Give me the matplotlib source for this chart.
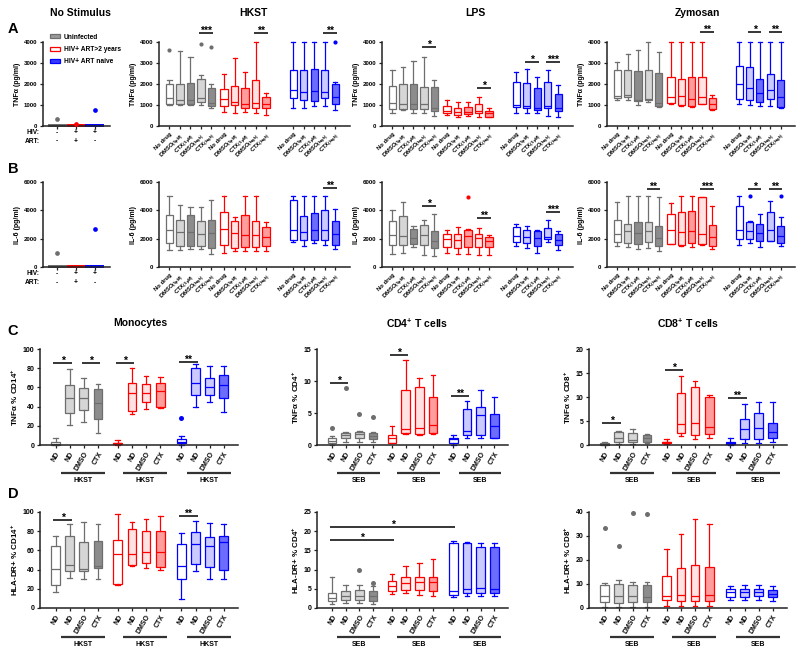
import matplotlib
matplotlib.use('Agg')
import matplotlib.pyplot as plt
from matplotlib.patches import Patch
from matplotlib.transforms import blended_transform_factory

plt.rcParams['font.family'] = ['Liberation Sans', 'DejaVu Sans']
plt.rcParams['font.weight'] = 'bold'
plt.rcParams['axes.labelweight'] = 'bold'
plt.rcParams['mathtext.fontset'] = 'custom'
plt.rcParams['mathtext.rm'] = 'Liberation Sans:bold'
plt.rcParams['mathtext.bf'] = 'Liberation Sans:bold'
plt.rcParams['mathtext.it'] = 'Liberation Sans:bold'
plt.rcParams['mathtext.sf'] = 'Liberation Sans:bold'
plt.rcParams['mathtext.default'] = 'bf'

# ---------------- data (whislo, q1, median, q3, whishi) ----------------
drug_labels = ['No drug', r'DMSO$_{(5\,µM)}$', r'CTX$_{(5\,µM)}$', r'DMSO$_{(high)}$', r'CTX$_{(high)}$']
cell_labels = ['ND', 'ND', 'DMSO', 'CTX']
legend_labels = ['Uninfected', 'HIV+ ART>2 years', 'HIV+ ART naive']
hiv_row = ['-', '+', '+']
art_row = ['-', '+', '-']

# No stimulus
tnf_nostim = [[0, 5, 20, 40, 50], [0, 5, 20, 40, 50], [0, 5, 20, 40, 50]]
tnf_nostim_out = [(0, 330), (1, 80), (2, 750)]
il6_nostim = [[0, 10, 30, 60, 80], [0, 10, 30, 60, 80], [0, 10, 30, 60, 80]]
il6_nostim_out = [(0, 1000), (2, 2650)]

# TNF HKST
tnf_hkst_uninf = [[1000, 1050, 1310, 2020, 2200], [980, 1030, 1230, 2020, 3570], [980, 1040, 1260, 2050, 3290],
                  [1000, 1150, 1310, 2220, 2420], [880, 950, 1100, 1830, 2020]]
tnf_hkst_art = [[650, 950, 1280, 1740, 2500], [630, 980, 1120, 1900, 3250], [680, 840, 1030, 1790, 2580],
                [630, 840, 1110, 2180, 4000], [520, 840, 1040, 1360, 1550]]
tnf_hkst_naive = [[840, 1310, 1710, 2690, 4000], [840, 1260, 1600, 2650, 4000], [950, 1200, 1660, 2730, 4000],
                  [950, 1310, 1630, 2690, 4000], [760, 1030, 1360, 1990, 2100]]
tnf_hkst_out = [(0, 3600), (3, 3920), (4, 3760), (14, 4000)]
tnf_hkst_sig = [(3, 4, 4430, '***'), (8, 9, 4430, '**'), (13, 14, 4430, '**')]

# TNF LPS
tnf_lps_uninf = [[630, 790, 1100, 1900, 2650], [760, 790, 1030, 1980, 2800], [630, 790, 1070, 1980, 3100],
                 [630, 790, 1030, 1860, 3280], [490, 710, 840, 1860, 2180]]
tnf_lps_art = [[520, 600, 710, 950, 1260], [440, 520, 680, 870, 1150], [470, 550, 680, 920, 1150],
               [440, 600, 710, 1070, 1390], [410, 440, 600, 710, 880]]
tnf_lps_naive = [[600, 920, 1000, 2100, 2580], [600, 870, 950, 2050, 2730], [600, 760, 880, 1830, 2340],
                 [470, 880, 950, 2100, 2650], [410, 730, 840, 1520, 1940]]
tnf_lps_out = []
tnf_lps_sig = [(3, 4, 3780, '*'), (8, 9, 1810, '*'), (11, 12, 3050, '*'), (13, 14, 3050, '***')]

# TNF Zymosan
tnf_zym_uninf = [[1230, 1340, 1420, 2650, 3050], [1260, 1390, 1470, 2650, 3440], [1000, 1200, 1260, 2620, 3600],
                 [1150, 1230, 1280, 2690, 4000], [920, 950, 1100, 2530, 3520]]
tnf_zym_art = [[1030, 1100, 1390, 2310, 4000], [950, 1000, 1440, 2230, 4000], [920, 950, 1280, 2310, 4000],
               [1030, 1070, 1390, 2310, 4000], [760, 800, 1070, 1310, 1470]]
tnf_zym_naive = [[1030, 1280, 1990, 2840, 4000], [1000, 1260, 1790, 2810, 4000], [960, 1120, 1580, 2260, 4000],
                 [950, 1280, 1710, 2480, 4000], [840, 920, 1390, 2180, 4000]]
tnf_zym_out = []
tnf_zym_sig = [(8, 9, 4470, '**'), (11, 12, 4470, '*'), (13, 14, 4470, '**')]

# IL-6 HKST
il6_hkst_uninf = [[1220, 1690, 2590, 3690, 5000], [1220, 1510, 2450, 3340, 4400], [1270, 1510, 2450, 3690, 4210],
                  [1270, 1510, 2350, 3270, 4210], [920, 1340, 2400, 3340, 4700]]
il6_hkst_art = [[990, 1580, 2700, 3860, 5000], [1150, 1340, 2400, 3270, 3530], [1110, 1390, 2280, 3650, 5000],
                [1110, 1390, 2280, 3220, 5000], [1110, 1510, 2120, 2800, 3180]]
il6_hkst_naive = [[1740, 1930, 2640, 4700, 5000], [1510, 1930, 2470, 3580, 5000], [1690, 1930, 2640, 3810, 5000],
                  [1580, 1930, 2640, 4050, 5000], [1290, 1580, 2350, 3220, 4120]]
il6_hkst_out = []
il6_hkst_sig = [(13, 14, 5580, '**')]

# IL-6 LPS
il6_lps_uninf = [[940, 1580, 2280, 3220, 4050], [990, 1580, 2210, 3620, 4560], [1410, 1650, 2050, 2680, 2920],
                 [870, 1580, 2260, 2990, 3290], [800, 1340, 1860, 2520, 3740]]
il6_lps_art = [[990, 1410, 2000, 2350, 2640], [940, 1340, 1930, 2350, 2800], [940, 1410, 2160, 2590, 2680],
               [870, 1390, 2050, 2350, 2750], [870, 1390, 1810, 2120, 2280]]
il6_lps_naive = [[1510, 1740, 2160, 2800, 3060], [1340, 1690, 2120, 2640, 2870], [990, 1460, 2050, 2520, 2640],
                 [1760, 1980, 2090, 2750, 3340], [1220, 1580, 1930, 2350, 2560]]
il6_lps_out = [(7, 4920)]
il6_lps_sig = [(3, 4, 4330, '*'), (8, 9, 3440, '**'), (13, 14, 3900, '***')]

# IL-6 Zymosan
il6_zym_uninf = [[1460, 1740, 2350, 3340, 4560], [1410, 1690, 2520, 3040, 5000], [1270, 1620, 2400, 3150, 5000],
                 [1340, 1740, 2560, 3150, 5000], [1110, 1510, 2050, 2870, 4940]]
il6_zym_art = [[1600, 1650, 2590, 3740, 4520], [1510, 1580, 2450, 3880, 5000], [1410, 1690, 2520, 3930, 5000],
               [1580, 1600, 2350, 4940, 4960], [1270, 1460, 2120, 2990, 4280]]
il6_zym_naive = [[1580, 2000, 2640, 4280, 5000], [1690, 2000, 2520, 3180, 3270], [1410, 1860, 2400, 3060, 3740],
                 [1810, 1860, 2640, 3860, 4640], [1510, 1690, 2210, 2870, 3530]]
il6_zym_out = [(11, 5000), (14, 5000)]
il6_zym_sig = [(3, 4, 5500, '**'), (8, 9, 5500, '***'), (11, 12, 5500, '*'), (13, 14, 5500, '**')]

# C: TNF % of cells
mono_tnf_uninf = [[0, 0.5, 1.5, 3, 7], [20.8, 33, 48.6, 62.5, 79], [24.3, 36.5, 49.3, 59.7, 69.4], [12.2, 26.7, 43.4, 58, 63.5]]
mono_tnf_art = [[0, 0.7, 1.7, 2.4, 5.2], [32.3, 35.4, 54.5, 65, 79.9], [37.2, 45, 54.5, 63.5, 72.2], [38.9, 40, 56.3, 65, 70.5]]
mono_tnf_naive = [[0, 1.7, 2.8, 5.9, 9.4], [40, 52, 64.2, 79.9, 84.4], [44.4, 52, 60.8, 70.1, 82.3], [34.7, 48.6, 62.5, 72.9, 82.3]]
mono_tnf_out = [(8, 27.8)]
mono_tnf_sig = [(0, 1, 85, '*'), (2, 3, 85, '*'), (4, 5, 85, '*'), (8, 9, 86.8, '**')]

cd4_tnf_uninf = [[0, 0.26, 0.63, 1.04, 1.4], [0.42, 1.04, 1.56, 1.82, 1.98], [0.52, 1.04, 1.67, 2.08, 2.24], [0.42, 0.94, 1.41, 1.82, 2.03]]
cd4_tnf_art = [[0.26, 0.36, 1.04, 1.56, 3.02], [1.72, 1.82, 2.45, 8.6, 13.3], [1.56, 1.67, 2.7, 9.0, 10.5], [1.67, 1.82, 3.13, 7.55, 11.0]]
cd4_tnf_naive = [[0.05, 0.36, 0.89, 1.04, 1.56], [1.15, 1.56, 2.24, 5.63, 6.93], [1.04, 1.56, 4.69, 6.0, 8.6], [1.04, 1.15, 2.97, 4.85, 7.45]]
cd4_tnf_out = [(0, 2.6), (1, 8.86), (2, 4.8), (3, 4.43)]
cd4_tnf_sig = [(0, 1, 9.74, '*'), (4, 5, 14.07, '*'), (8, 9, 7.7, '**')]

cd8_tnf_uninf = [[0, 0.07, 0.2, 0.35, 0.7], [0.2, 0.55, 1.4, 2.8, 2.9], [0.2, 0.7, 1.04, 2.6, 3.26], [0.35, 0.7, 1.39, 2.08, 2.29]]
cd8_tnf_art = [[0.14, 0.35, 0.55, 0.7, 1.18], [1.94, 2.43, 4.37, 10.9, 14.4], [1.18, 2.08, 4.65, 12.0, 13.3], [1.53, 2.29, 3.68, 9.93, 10.4]]
cd8_tnf_naive = [[0, 0.14, 0.49, 0.7, 1.53], [0.49, 1.18, 3.26, 5.35, 8.47], [0.49, 1.18, 3.61, 6.6, 9.03], [0.55, 1.39, 2.78, 4.65, 8.9]]
cd8_tnf_out = []
cd8_tnf_sig = [(0, 1, 4.5, '*'), (4, 5, 15.6, '*'), (8, 9, 9.7, '**')]

# D: HLA-DR+ % of cells
mono_hla_uninf = [[16.3, 24.3, 40.6, 64.2, 74.7], [31.2, 38.9, 45.1, 75.3, 87.8], [30.2, 38.9, 40.6, 68.8, 89.2], [30.2, 41.7, 43.4, 70.1, 87.8]]
mono_hla_art = [[24.3, 25.3, 56.6, 71.2, 97.9], [43.4, 45.1, 56.6, 82.6, 89.6], [41.7, 46.9, 58.0, 80.6, 93.1], [39.2, 42.4, 58.0, 79.9, 96.2]]
mono_hla_naive = [[9.7, 30.6, 44.1, 66.7, 78.1], [38.2, 46.2, 67.0, 78.8, 90.3], [30.6, 42.7, 64.9, 74.0, 88.5], [30.2, 39.9, 68.8, 74.7, 87.8]]
mono_hla_out = []
mono_hla_sig = [(0, 1, 92, '*'), (8, 9, 95.5, '**')]

cd4_hla_uninf = [[1.0, 1.8, 2.6, 4.0, 8.0], [1.2, 2.0, 3.0, 4.5, 6.0], [1.2, 2.0, 3.2, 4.6, 6.0], [1.0, 1.8, 3.0, 4.5, 5.6]]
cd4_hla_art = [[3.6, 4.5, 5.8, 7.0, 8.8], [3.8, 4.8, 6.5, 8.0, 11.0], [3.5, 4.6, 6.8, 8.2, 11.8], [3.2, 4.4, 6.8, 8.0, 12.8]]
cd4_hla_naive = [[2.8, 3.5, 4.5, 17.0, 17.5], [3.0, 3.8, 5.0, 16.8, 17.2], [3.0, 3.8, 5.2, 16.0, 17.0], [3.0, 3.8, 5.0, 16.0, 17.0]]
cd4_hla_out = [(2, 10.0), (3, 6.5)]
cd4_hla_sig = [(0, 4, 17.6, '*'), (0, 8, 21.0, '*')]

cd8_hla_uninf = [[0.5, 2.5, 5.0, 9.5, 10.5], [0.5, 2.0, 5.0, 10.0, 11.5], [0.5, 2.5, 5.0, 9.5, 11.0], [0.5, 2.5, 4.5, 9.5, 11.0]]
cd8_hla_art = [[1.0, 3.5, 5.0, 13.5, 24.5], [1.0, 3.0, 5.5, 16.5, 31.0], [1.0, 3.0, 5.0, 18.0, 37.0], [1.0, 3.0, 5.5, 17.0, 35.0]]
cd8_hla_naive = [[3.5, 4.5, 6.5, 8.0, 9.0], [3.5, 4.5, 6.5, 8.0, 9.5], [3.5, 5.0, 6.5, 8.0, 9.5], [3.0, 4.5, 6.0, 7.5, 9.0]]
cd8_hla_out = [(0, 33.5), (1, 26.0), (2, 39.5), (3, 39.0)]
cd8_hla_sig = []

# ---------------- styling ----------------
GRAY, RED, BLUE = '#6e6e6e', '#ff0000', '#0000ff'
edges = [GRAY, RED, BLUE]
fills_top = [['white', '#d6d6d6', '#8c8c8c', '#d6d6d6', '#8c8c8c'],
             ['white', '#ffe2e2', '#ff9c9c', '#ffe2e2', '#ff9c9c'],
             ['white', '#cacaff', '#6c6cff', '#cacaff', '#6c6cff']]
fills_cell = [['white', '#d6d6d6', '#d6d6d6', '#8c8c8c'],
              ['white', '#ffe2e2', '#ffe2e2', '#ff9c9c'],
              ['white', '#cacaff', '#cacaff', '#6c6cff']]
pos_top = [[0, 1, 2, 3, 4], [5.2, 6.2, 7.2, 8.2, 9.2], [11.8, 12.8, 13.8, 14.8, 15.8]]
pos_cell = [[0, 1, 2, 3], [4.4, 5.4, 6.4, 7.4], [8.9, 9.9, 10.9, 11.9]]

W, H = 800, 654
fig = plt.figure(figsize=(W / 100, H / 100), dpi=100)


def px_axes(x0, y0, x1, y1):
    return fig.add_axes([x0 / W, 1 - y1 / H, (x1 - x0) / W, (y1 - y0) / H])


def style_axis(ax, ylim, yticks, ylabel, tick_fs, label_fs):
    for s in ['top', 'right']:
        ax.spines[s].set_visible(False)
    for s in ['left', 'bottom']:
        ax.spines[s].set_linewidth(1.1)
        ax.spines[s].set_color('#222222')
    ax.set_ylim(*ylim)
    ax.set_yticks(yticks)
    ax.tick_params(axis='both', direction='out', length=2.5, width=0.9, color='#222222',
                   labelsize=tick_fs, pad=1.5)
    ax.set_ylabel(ylabel, fontsize=label_fs, labelpad=2)


def draw_groups(ax, groups, positions, fills, width, lw=0.9):
    for boxes, pos, fill, edge in zip(groups, positions, fills, edges):
        stats = [dict(whislo=b[0], q1=b[1], med=b[2], q3=b[3], whishi=b[4], fliers=[]) for b in boxes]
        art = ax.bxp(stats, positions=pos, widths=width, capwidths=width * 0.55, patch_artist=True,
                     showfliers=False, manage_ticks=False,
                     boxprops=dict(linewidth=lw),
                     whiskerprops=dict(linewidth=lw, color=edge),
                     capprops=dict(linewidth=lw, color=edge),
                     medianprops=dict(linewidth=lw, color=edge))
        for patch, fc in zip(art['boxes'], fill):
            patch.set_facecolor(fc)
            patch.set_edgecolor(edge)
        for key in art:
            for a in art[key]:
                a.set_clip_on(False)


def draw_outliers(ax, outliers, flat_pos, flat_col, ms=3.0):
    for idx, val in outliers:
        ax.plot(flat_pos[idx], val, 'o', color=flat_col[idx], ms=ms, mec='none', clip_on=False, zorder=5)


def draw_sig(ax, sigs, flat_pos, fs=7.5):
    for a, b, y, lab in sigs:
        x0, x1 = flat_pos[a] - 0.15, flat_pos[b] + 0.15
        ax.plot([x0, x1], [y, y], color='black', lw=1.1, clip_on=False, solid_capstyle='butt')
        ax.annotate(lab, xy=((x0 + x1) / 2, y), xytext=(0, -2), textcoords='offset points',
                    ha='center', va='bottom', fontsize=fs, annotation_clip=False)


flat_top = [p for g in pos_top for p in g]
col_top = [c for c, g in zip(edges, pos_top) for _ in g]
flat_cell = [p for g in pos_cell for p in g]
col_cell = [c for c, g in zip(edges, pos_cell) for _ in g]

# ---------------- rows A and B ----------------
rows_ab = [
    dict(y=(42, 126), ylim=(0, 4000), yticks=[0, 1000, 2000, 3000, 4000], ylabel='TNFα (pg/ml)',
         nostim=tnf_nostim, nostim_out=tnf_nostim_out,
         panels=[([tnf_hkst_uninf, tnf_hkst_art, tnf_hkst_naive], tnf_hkst_out, tnf_hkst_sig),
                 ([tnf_lps_uninf, tnf_lps_art, tnf_lps_naive], tnf_lps_out, tnf_lps_sig),
                 ([tnf_zym_uninf, tnf_zym_art, tnf_zym_naive], tnf_zym_out, tnf_zym_sig)]),
    dict(y=(182, 267), ylim=(0, 6000), yticks=[0, 2000, 4000, 6000], ylabel='IL-6 (pg/ml)',
         nostim=il6_nostim, nostim_out=il6_nostim_out,
         panels=[([il6_hkst_uninf, il6_hkst_art, il6_hkst_naive], il6_hkst_out, il6_hkst_sig),
                 ([il6_lps_uninf, il6_lps_art, il6_lps_naive], il6_lps_out, il6_lps_sig),
                 ([il6_zym_uninf, il6_zym_art, il6_zym_naive], il6_zym_out, il6_zym_sig)]),
]
top_x = [(159, 350), (382, 573), (607, 795)]

for r, row in enumerate(rows_ab):
    y0, y1 = row['y']
    # no stimulus panel
    ax = px_axes(43, y0, 110, y1)
    style_axis(ax, row['ylim'], row['yticks'], row['ylabel'], 4.4, 5)
    ns_pos = [0, 1, 2]
    stats = [dict(whislo=b[0], q1=b[1], med=b[2], q3=b[3], whishi=b[4], fliers=[]) for b in row['nostim']]
    for st, p, e in zip(stats, ns_pos, edges):
        art = ax.bxp([st], positions=[p], widths=0.9, patch_artist=True, showfliers=False, manage_ticks=False,
                     boxprops=dict(linewidth=1.4), whiskerprops=dict(color=e, linewidth=1.4),
                     capprops=dict(color=e, linewidth=1.4), medianprops=dict(color=e, linewidth=1.4))
        art['boxes'][0].set_facecolor(e)
        art['boxes'][0].set_edgecolor(e)
        for key in art:
            for a in art[key]:
                a.set_clip_on(False)
    draw_outliers(ax, row['nostim_out'], ns_pos, edges, ms=3.4)
    ax.set_xlim(-0.75, 2.8)
    ax.set_xticks(ns_pos)
    ax.set_xticklabels([])
    tr = blended_transform_factory(ax.transData, ax.transAxes)
    tra = ax.transAxes
    ax.text(-0.05, -0.075, 'HIV:', transform=tra, ha='right', va='center', fontsize=4.8)
    ax.text(-0.05, -0.18, 'ART:', transform=tra, ha='right', va='center', fontsize=4.8)
    for p, h, a in zip(ns_pos, hiv_row, art_row):
        ax.text(p, -0.075, h, transform=tr, ha='center', va='center', fontsize=4.8)
        ax.text(p, -0.18, a, transform=tr, ha='center', va='center', fontsize=4.8)
    if r == 0:
        handles = [Patch(facecolor='#9a9a9a', edgecolor=GRAY, lw=0.9),
                   Patch(facecolor='white', edgecolor=RED, lw=0.9),
                   Patch(facecolor='#3a3aff', edgecolor=BLUE, lw=0.9)]
        ax.legend(handles, legend_labels, loc='upper left', bbox_to_anchor=(0.1, 1.1), frameon=False,
                  fontsize=4.8, handlelength=1.6, handleheight=0.55, handletextpad=0.5,
                  labelspacing=0.8, borderpad=0, borderaxespad=0)

    for (x0, x1), (groups, outs, sigs) in zip(top_x, row['panels']):
        ax = px_axes(x0, y0, x1, y1)
        style_axis(ax, row['ylim'], row['yticks'], row['ylabel'], 4.4, 5)
        draw_groups(ax, groups, pos_top, fills_top, 0.7)
        draw_outliers(ax, outs, flat_top, col_top)
        draw_sig(ax, sigs, flat_top)
        ax.set_xlim(-1.0, 17.2)
        ax.set_xticks(flat_top)
        ax.set_xticklabels(drug_labels * 3, rotation=45, ha='right', va='top', rotation_mode='anchor',
                           fontsize=4.2)

# ---------------- rows C and D ----------------
rows_cd = [
    dict(y=(349, 445), line_y=-0.292, txt_y=-0.375,
         panels=[((40, 238), (0, 100), [0, 20, 40, 60, 80, 100], 'TNFα % CD14$^{+}$', 'HKST',
                  [mono_tnf_uninf, mono_tnf_art, mono_tnf_naive], mono_tnf_out, mono_tnf_sig),
                 ((317, 508), (0, 15), [0, 5, 10, 15], 'TNFα % CD4$^{+}$', 'SEB',
                  [cd4_tnf_uninf, cd4_tnf_art, cd4_tnf_naive], cd4_tnf_out, cd4_tnf_sig),
                 ((589, 787), (0, 20), [0, 5, 10, 15, 20], 'TNFα % CD8$^{+}$', 'SEB',
                  [cd8_tnf_uninf, cd8_tnf_art, cd8_tnf_naive], cd8_tnf_out, cd8_tnf_sig)]),
    dict(y=(512, 608), line_y=-0.302, txt_y=-0.385,
         panels=[((40, 238), (0, 100), [0, 20, 40, 60, 80, 100], 'HLA-DR+ % CD14$^{+}$', 'HKST',
                  [mono_hla_uninf, mono_hla_art, mono_hla_naive], mono_hla_out, mono_hla_sig),
                 ((317, 508), (0, 25), [0, 5, 10, 15, 20, 25], 'HLA-DR+ % CD4$^{+}$', 'SEB',
                  [cd4_hla_uninf, cd4_hla_art, cd4_hla_naive], cd4_hla_out, cd4_hla_sig),
                 ((589, 787), (0, 40), [0, 10, 20, 30, 40], 'HLA-DR+ % CD8$^{+}$', 'SEB',
                  [cd8_hla_uninf, cd8_hla_art, cd8_hla_naive], cd8_hla_out, cd8_hla_sig)]),
]

for row in rows_cd:
    y0, y1 = row['y']
    for (x0, x1), ylim, yticks, ylabel, stim, groups, outs, sigs in row['panels']:
        ax = px_axes(x0, y0, x1, y1)
        style_axis(ax, ylim, yticks, ylabel, 5, 5.8)
        draw_groups(ax, groups, pos_cell, fills_cell, 0.62)
        draw_outliers(ax, outs, flat_cell, col_cell, ms=3.6)
        draw_sig(ax, sigs, flat_cell)
        ax.set_xlim(-1.1, 12.9)
        ax.set_xticks(flat_cell)
        ax.set_xticklabels(cell_labels * 3, rotation=60, ha='right', va='top', rotation_mode='anchor',
                           fontsize=5)
        tr = blended_transform_factory(ax.transData, ax.transAxes)
        for g in pos_cell:
            ax.plot([g[0] + 0.4, g[0] + 3.5], [row['line_y']] * 2, transform=tr, clip_on=False,
                    color='#333333', lw=1.6, solid_capstyle='butt')
            ax.text(g[0] + 1.95, row['txt_y'], stim, transform=tr, ha='center', va='center', fontsize=5)

# ---------------- titles and panel letters ----------------
titles = [('No Stimulus', 80, 13), ('HKST', 253, 13), ('LPS', 475, 13), ('Zymosan', 697, 13),
          ('Monocytes', 140, 323), ('CD4$^{+}$ T cells', 417, 323), ('CD8$^{+}$ T cells', 688, 323)]
for txt, x, y in titles:
    fig.text(x / W, 1 - y / H, txt, ha='center', va='center', fontsize=7.5)
for letter, x, y in [('A', 13, 29), ('B', 13, 169), ('C', 13, 331), ('D', 13, 494)]:
    fig.text(x / W, 1 - y / H, letter, ha='center', va='center', fontsize=10.5)

fig.savefig('out.png', dpi=100)
